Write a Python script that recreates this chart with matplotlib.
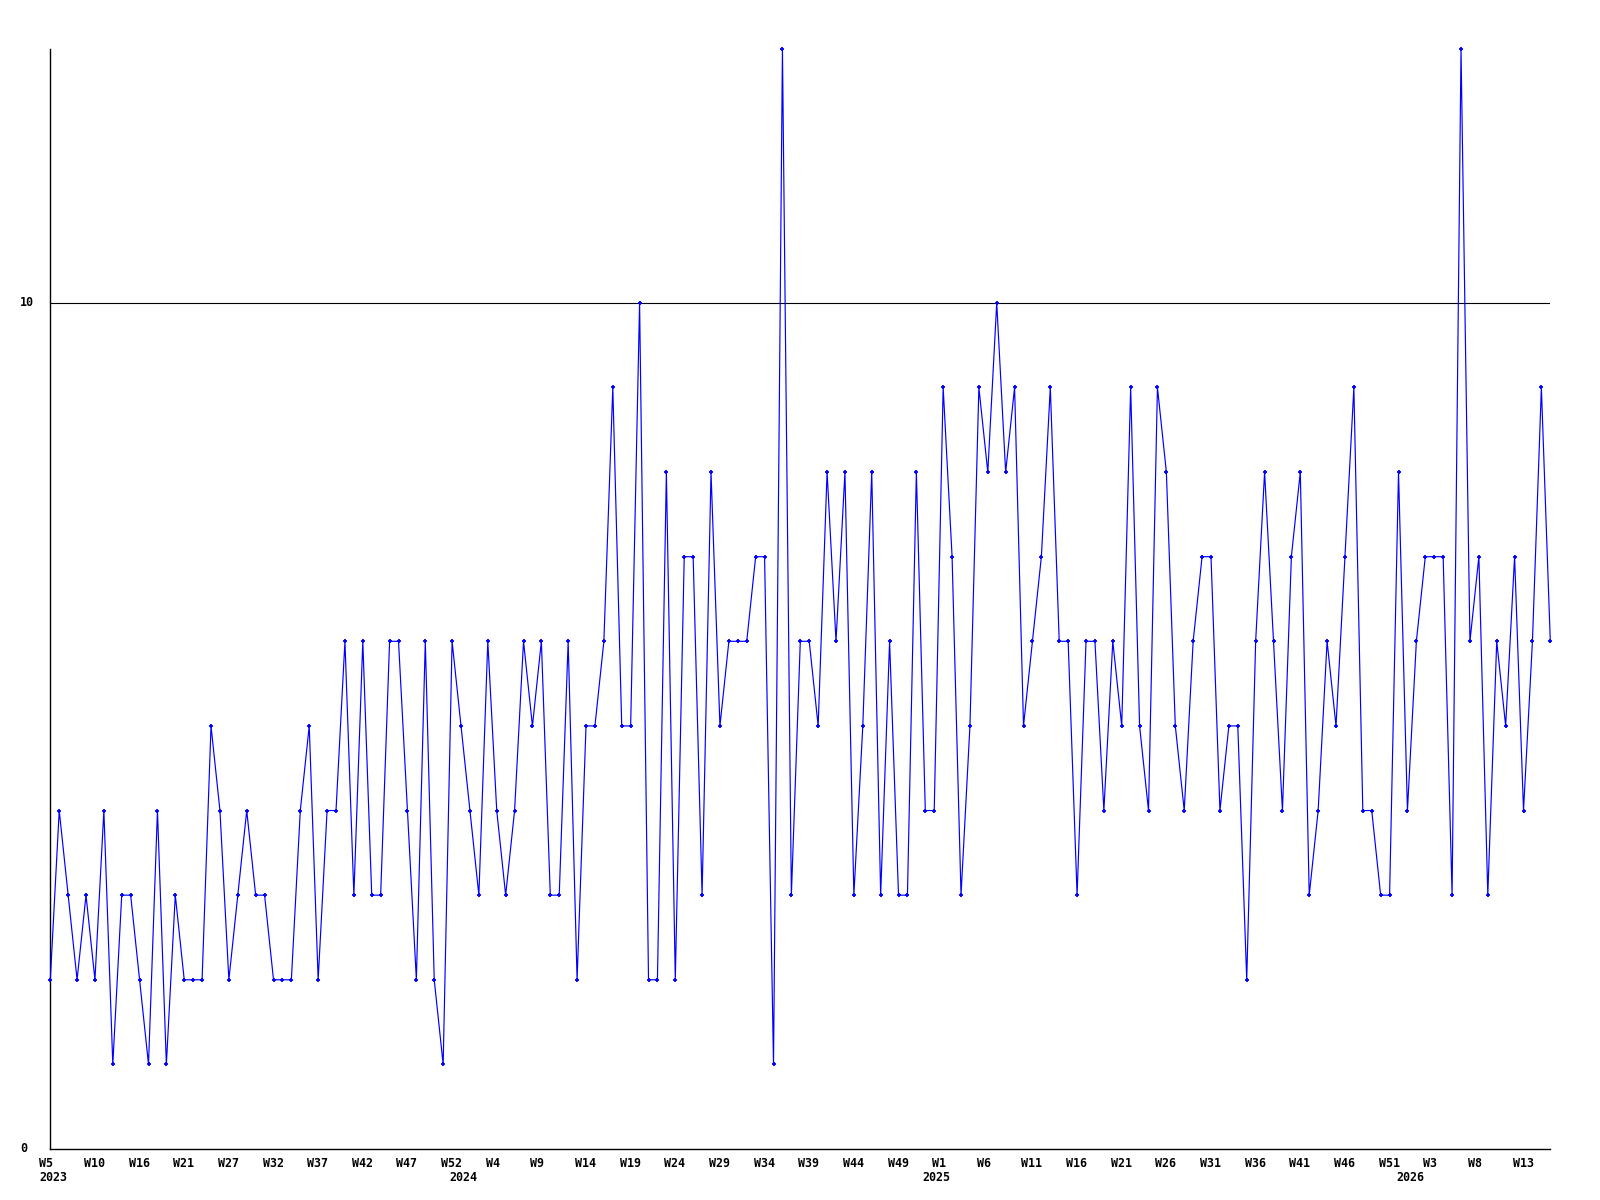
import numpy as np
import matplotlib
matplotlib.use("Agg")
import matplotlib.pyplot as plt
import matplotlib.transforms as mtransforms

# weekly counts, 2023 W5 onwards (one value per week)
values = [2, 4, 3, 2, 3, 2, 4, 1, 3, 3, 2, 1, 4, 1, 3, 2, 2, 2, 5, 4,
          2, 3, 4, 3, 3, 2, 2, 2, 4, 5, 2, 4, 4, 6, 3, 6, 3, 3, 6, 6,
          4, 2, 6, 2, 1, 6, 5, 4, 3, 6, 4, 3, 4, 6, 5, 6, 3, 3, 6, 2,
          5, 5, 6, 9, 5, 5, 10, 2, 2, 8, 2, 7, 7, 3, 8, 5, 6, 6, 6, 7,
          7, 1, 13, 3, 6, 6, 5, 8, 6, 8, 3, 5, 8, 3, 6, 3, 3, 8, 4, 4,
          9, 7, 3, 5, 9, 8, 10, 8, 9, 5, 6, 7, 9, 6, 6, 3, 6, 6, 4, 6,
          5, 9, 5, 4, 9, 8, 5, 4, 6, 7, 7, 4, 5, 5, 2, 6, 8, 6, 4, 7,
          8, 3, 4, 6, 5, 7, 9, 4, 4, 3, 3, 8, 4, 6, 7, 7, 7, 3, 13, 6,
          7, 3, 6, 5, 7, 4, 6, 9, 6]

week_labels = ['W5', 'W10', 'W16', 'W21', 'W27', 'W32', 'W37', 'W42', 'W47', 'W52',
               'W4', 'W9', 'W14', 'W19', 'W24', 'W29', 'W34', 'W39', 'W44', 'W49',
               'W1', 'W6', 'W11', 'W16', 'W21', 'W26', 'W31', 'W36', 'W41', 'W46', 'W51',
               'W3', 'W8', 'W13']
years = ['2023', '2024', '2025', '2026']
year_pos = [0.4, 46.3, 99.2, 152.3]
ytick_vals = [0, 10]

x = np.arange(len(values))
tick_pos = np.arange(len(week_labels)) * 5

fig = plt.figure(figsize=(16, 12), dpi=100)
ax = fig.add_axes([50.3 / 1600, 1 - 1149 / 1200, 1500 / 1600, 1100 / 1200])

ax.axhline(10, color='black', lw=0.8, zorder=1)
ax.plot(x, values, color='#0000ff', lw=0.85, marker='+', ms=3.5, mew=1.3,
        clip_on=False, zorder=3)

ax.set_xlim(0, len(values) - 1)
ax.set_ylim(0, 13)
for s in ['top', 'right']:
    ax.spines[s].set_visible(False)
for s in ['left', 'bottom']:
    ax.spines[s].set_linewidth(1.0)
ax.set_xticks([])
ax.set_yticks([])

font = dict(family='DejaVu Sans Mono', weight='bold', size=8.4)

# week labels under the axis
trans = mtransforms.blended_transform_factory(ax.transData, ax.transAxes)
off = mtransforms.ScaledTranslation(-11 / 100, -8 / 100, fig.dpi_scale_trans)
for p, lab in zip(tick_pos, week_labels):
    ax.text(p, 0, lab, transform=trans + off, ha='left', va='top', **font)

# year labels
off2 = mtransforms.ScaledTranslation(0, -22 / 100, fig.dpi_scale_trans)
for i, (p, yr) in enumerate(zip(year_pos, years)):
    if i == 0:
        ax.text(0, 0, yr, transform=trans + off + mtransforms.ScaledTranslation(0, -14 / 100, fig.dpi_scale_trans),
                ha='left', va='top', **font)
    else:
        ax.text(p, 0, yr, transform=trans + off2, ha='center', va='top', **font)

# y labels
trans_y = mtransforms.blended_transform_factory(ax.transAxes, ax.transData)
off3 = mtransforms.ScaledTranslation(-30 / 100, 0, fig.dpi_scale_trans)
for v in ytick_vals:
    ax.text(0, v, str(v), transform=trans_y + off3, ha='left', va='center', **font)

fig.savefig('out.png', dpi=100, facecolor='white')
